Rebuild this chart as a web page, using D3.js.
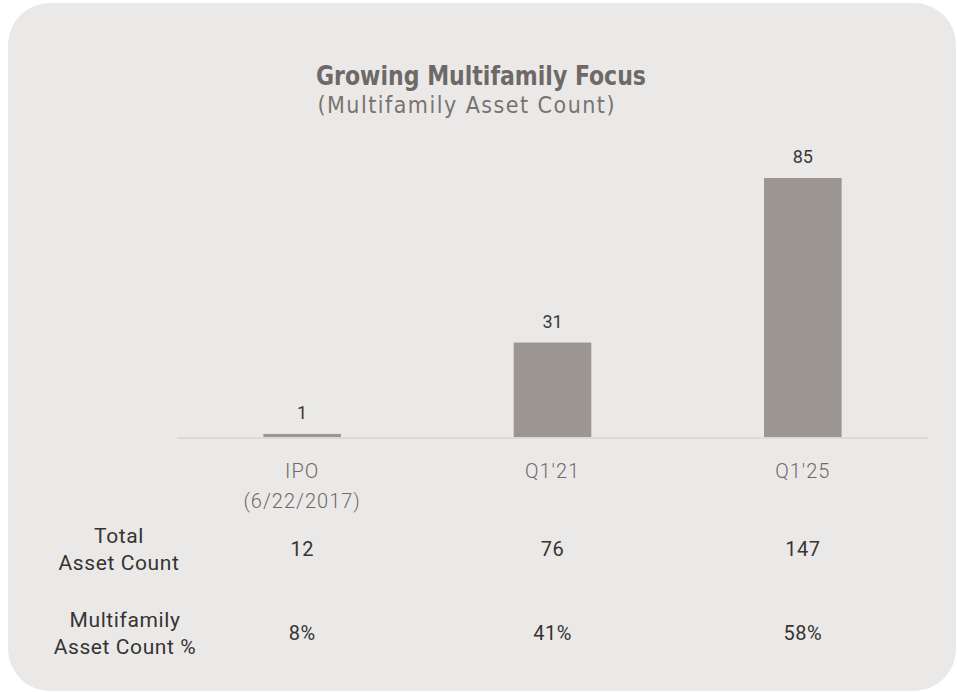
<!DOCTYPE html>
<html lang="en">
<head>
  <meta charset="UTF-8">
  <title>Growing Multifamily Focus</title>
  <style>
    html, body {
      background-color: #ffffff;
      margin: 0;
    }
    svg {
      display: block;
      font-family: Roboto, "DejaVu Sans", sans-serif;
    }
  </style>
</head>
<body>
  <svg id="chart" width="957" height="692"></svg>

  <script src="https://cdnjs.cloudflare.com/ajax/libs/d3/7.8.5/d3.min.js"></script>
  <script>
    // data
    const categories = ['IPO', "Q1'21", "Q1'25"];
    const categorySubLabels = ['(6/22/2017)', '', ''];
    const multifamilyCounts = [1, 31, 85];
    const totalAssetCounts = [12, 76, 147];
    const multifamilyShares = ['8%', '41%', '58%'];
    const rowLabels = [['Total', 'Asset Count'], ['Multifamily', 'Asset Count %']];

    const plot = { left: 177, right: 928, top: 178, baseline: 437 };
    const narrow = '"DejaVu Sans Condensed", Roboto, sans-serif';

    const svg = d3.select('#chart');

    // panel
    svg.append('rect')
      .attr('x', 8)
      .attr('y', 3)
      .attr('width', 948)
      .attr('height', 688)
      .attr('rx', 42)
      .attr('fill', '#ebe9e7');

    const x = d3.scaleBand()
      .domain(categories)
      .range([plot.left, plot.right])
      .paddingInner(0.69)
      .paddingOuter(0.345);

    const y = d3.scaleLinear()
      .domain([0, d3.max(multifamilyCounts)])
      .range([plot.baseline, plot.top]);

    // title
    svg.append('text')
      .attr('x', 481)
      .attr('y', 85)
      .attr('text-anchor', 'middle')
      .attr('font-family', narrow)
      .attr('font-size', 26)
      .attr('font-weight', 700)
      .attr('fill', '#6e6967')
      .attr('textLength', 330)
      .attr('lengthAdjust', 'spacingAndGlyphs')
      .text('Growing Multifamily Focus');

    svg.append('text')
      .attr('x', 466)
      .attr('y', 113)
      .attr('text-anchor', 'middle')
      .attr('font-family', narrow)
      .attr('font-size', 23)
      .attr('fill', '#79736f')
      .attr('textLength', 297)
      .text('(Multifamily Asset Count)');

    // baseline
    svg.append('line')
      .attr('x1', plot.left)
      .attr('x2', plot.right)
      .attr('y1', plot.baseline + 1)
      .attr('y2', plot.baseline + 1)
      .attr('stroke', '#dcdad7')
      .attr('stroke-width', 2);

    // bars
    svg.append('g')
      .selectAll('rect')
      .data(multifamilyCounts)
      .join('rect')
      .attr('x', (d, i) => x(categories[i]))
      .attr('width', x.bandwidth())
      .attr('y', d => y(d))
      .attr('height', d => plot.baseline - y(d))
      .attr('fill', '#9c9692');

    // value labels
    svg.append('g')
      .selectAll('text')
      .data(multifamilyCounts)
      .join('text')
      .attr('x', (d, i) => x(categories[i]) + x.bandwidth() / 2)
      .attr('y', d => y(d) - 15)
      .attr('text-anchor', 'middle')
      .attr('font-size', 18)
      .attr('fill', '#3a3938')
      .text(d => d);

    // category labels
    const cat = svg.append('g')
      .selectAll('text')
      .data(categories)
      .join('text')
      .attr('text-anchor', 'middle')
      .attr('font-size', 20)
      .attr('font-weight', 300)
      .attr('letter-spacing', 1)
      .attr('fill', '#6f6a67');

    cat.append('tspan')
      .attr('x', d => x(d) + x.bandwidth() / 2)
      .attr('y', 478)
      .text(d => d);

    cat.append('tspan')
      .attr('x', d => x(d) + x.bandwidth() / 2)
      .attr('y', 508)
      .text((d, i) => categorySubLabels[i]);

    // table rows
    const rows = [totalAssetCounts, multifamilyShares];
    const rowY = [556, 640];

    rows.forEach((values, r) => {
      svg.append('text')
        .attr('text-anchor', 'middle')
        .attr('font-size', 21)
        .attr('letter-spacing', 0.6)
        .attr('fill', '#353433')
        .selectAll('tspan')
        .data(rowLabels[r])
        .join('tspan')
        .attr('x', r === 0 ? 119 : 125)
        .attr('y', (d, i) => rowY[r] - 13 + i * 27)
        .text(d => d);

      svg.append('g')
        .selectAll('text')
        .data(values)
        .join('text')
        .attr('x', (d, i) => x(categories[i]) + x.bandwidth() / 2)
        .attr('y', rowY[r])
        .attr('text-anchor', 'middle')
        .attr('font-size', 20)
        .attr('letter-spacing', 0.5)
        .attr('fill', '#353433')
        .text(d => d);
    });
  </script>
</body>
</html>
